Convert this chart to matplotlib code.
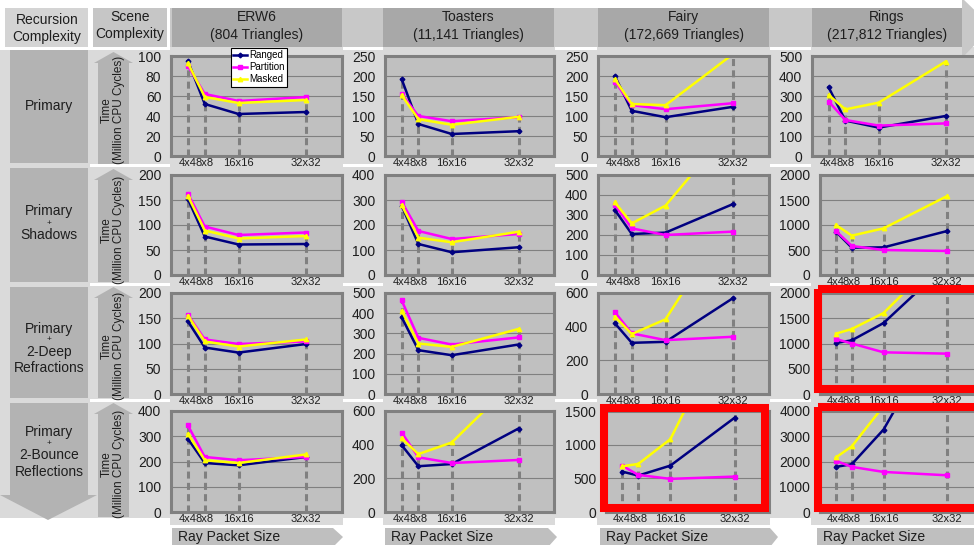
import numpy as np
import matplotlib
matplotlib.use('Agg')
import matplotlib.pyplot as plt
import matplotlib.patches as mpatches

plt.rcParams['font.family'] = ['Liberation Sans', 'DejaVu Sans']

W, H = 974, 545

sizes = [4, 8, 16, 32]
size_labels = ['4x4', '8x8', '16x16', '32x32']
scene_names = ['ERW6', 'Toasters', 'Fairy', 'Rings']
scene_tris = ['(804 Triangles)', '(11,141 Triangles)', '(172,669 Triangles)', '(217,812 Triangles)']
series_names = ['Ranged', 'Partition', 'Masked']
row_names = [['Primary'], ['Primary', '+', 'Shadows'],
             ['Primary', '+', '2-Deep', 'Refractions'],
             ['Primary', '+', '2-Bounce', 'Reflections']]

# million CPU cycles, one list per scene (ERW6, Toasters, Fairy, Rings)
primary_ranged = [[95, 52, 42, 44], [192, 80, 55, 62], [200, 113, 97, 123], [343, 177, 142, 200]]
primary_partition = [[90, 62, 55, 59], [155, 100, 87, 97], [186, 127, 117, 132], [272, 180, 152, 163]]
primary_masked = [[93, 59, 53, 56], [152, 92, 78, 98], [192, 130, 127, 255], [305, 233, 267, 472]]

shadows_ranged = [[152, 77, 61, 62], [277, 124, 91, 111], [325, 205, 212, 355], [867, 547, 553, 880]]
shadows_partition = [[163, 97, 80, 85], [293, 176, 144, 164], [350, 233, 200, 217], [880, 580, 500, 480]]
shadows_masked = [[158, 89, 73, 78], [280, 149, 131, 173], [363, 258, 347, 750], [1000, 787, 933, 1580]]

refract_ranged = [[144, 92, 82, 99], [380, 217, 192, 245], [420, 304, 310, 570], [1010, 1063, 1406, 2580]]
refract_partition = [[157, 108, 99, 104], [463, 278, 245, 280], [486, 360, 320, 340], [1089, 1000, 825, 799]]
refract_masked = [[155, 104, 94, 108], [412, 250, 233, 322], [460, 356, 444, 1070], [1195, 1287, 1604, 2850]]

reflect_ranged = [[290, 194, 185, 218], [397, 272, 285, 496], [600, 541, 689, 1402], [1787, 1893, 3267, 7700]]
reflect_partition = [[343, 218, 205, 218], [472, 325, 291, 309], [689, 551, 492, 526], [2027, 1787, 1587, 1453]]
reflect_masked = [[310, 205, 194, 228], [437, 344, 413, 800], [679, 713, 1082, 3000], [2160, 2600, 4200, 8000]]

y_max = [[100, 250, 250, 500], [200, 400, 500, 2000], [200, 500, 600, 2000], [400, 600, 1500, 4000]]
y_step = [[20, 50, 50, 100], [50, 100, 100, 500], [50, 100, 200, 500], [100, 200, 500, 1000]]
highlighted = [(2, 3), (3, 2), (3, 3)]

rows = [(primary_ranged, primary_partition, primary_masked),
        (shadows_ranged, shadows_partition, shadows_masked),
        (refract_ranged, refract_partition, refract_masked),
        (reflect_ranged, reflect_partition, reflect_masked)]

colors = ['#000080', '#ff00ff', '#ffff00']
markers = ['D', 's', '^']
msizes = [2.4, 2.6, 3.2]
txt = '#1e1e1e'

fig = plt.figure(figsize=(W / 100, H / 100), dpi=100)
fig.patch.set_facecolor('white')


def px_axes(left, top, right, bottom):
    return fig.add_axes([left / W, 1 - bottom / H, (right - left) / W, (bottom - top) / H])


def rect(ax, x0, y0, x1, y1, c):
    ax.add_patch(mpatches.Rectangle((x0, y0), x1 - x0, y1 - y0, fc=c, ec='none'))


# background decorations, in pixel coordinates
bg = fig.add_axes([0, 0, 1, 1])
bg.set_xlim(0, W)
bg.set_ylim(H, 0)
bg.axis('off')

rect(bg, 0, 50, W, 518, '#dadada')
col_panels = [(170, 343), (383, 555), (597, 770), (811, W)]
for x0, x1 in col_panels:
    rect(bg, x0, 47, x1, 525, '#dadada')
gaps = [(90, 170), (343, 383), (555, 597), (770, 811)]
for x0, x1 in gaps:
    for y in [163.5, 282.5, 398.5]:
        rect(bg, x0, y, x1, y + 3, 'white')

# header
bg.add_patch(mpatches.Polygon([(170, 8), (962, 8), (962, -2), (992, 27), (962, 58), (962, 47), (170, 47)],
                              fc='#c8c8c8', ec='none'))
head_boxes = [(172, 342), (383, 554), (598, 769), (812, 962)]
for (x0, x1), nm, tri in zip(head_boxes, scene_names, scene_tris):
    rect(bg, x0, 8, x1, 47, '#a8a8a8')
    bg.text((x0 + x1) / 2, 17, nm, ha='center', va='center', fontsize=10, color=txt)
    bg.text((x0 + x1) / 2, 35, tri, ha='center', va='center', fontsize=10, color=txt)
rect(bg, 5, 8, 88, 47, '#d4d4d4')
rect(bg, 93, 8, 167, 47, '#c6c6c6')
bg.text(47, 20, 'Recursion', ha='center', va='center', fontsize=10, color=txt)
bg.text(47, 37, 'Complexity', ha='center', va='center', fontsize=10, color=txt)
bg.text(130, 17, 'Scene', ha='center', va='center', fontsize=10, color=txt)
bg.text(130, 34, 'Complexity', ha='center', va='center', fontsize=10, color=txt)

# recursion complexity column
row_boxes = [(50, 163), (168, 282), (287, 398), (403, 497)]
for y0, y1 in row_boxes:
    rect(bg, 10, y0, 88, y1, '#b3b3b3')
bg.add_patch(mpatches.Polygon([(0, 495), (97, 495), (48, 520)], fc='#b3b3b3', ec='none'))
label_y = [[106], [211, 223, 235], [329, 340, 352, 368], [432, 444, 455, 472]]
for names, ys in zip(row_names, label_y):
    for nm, y in zip(names, ys):
        bg.text(49, y, nm, ha='center', va='center', fontsize=6 if nm == '+' else 10, color=txt)

# time arrows
time_arrows = [(52, 63, 164), (169, 180, 282), (287, 298, 398), (403, 414, 517)]
time_center = [110, 230, 346, 464]
for (tip, base, bot), yc in zip(time_arrows, time_center):
    bg.add_patch(mpatches.Polygon([(98, bot), (98, base), (94, base), (113.5, tip), (133, base),
                                   (129, base), (129, bot)], fc='#b3b3b3', ec='none'))
    bg.text(113, yc, 'Time\n(Million CPU Cycles)', rotation=90, ha='center', va='center',
            fontsize=8.5, linespacing=0.95, multialignment='center', color=txt)

# ray packet size arrows
ray_boxes = [(172, 333, 343), (385, 548, 557), (600, 770, 778), (817, 990, 1000)]
for x0, x1, xt in ray_boxes:
    bg.add_patch(mpatches.Polygon([(x0, 528), (x1, 528), (xt, 537), (x1, 547), (x0, 547)],
                                  fc='#bfbfbf', ec='none'))
    bg.text(x0 + 6, 537.5, 'Ray Packet Size', ha='left', va='center', fontsize=10, color=txt)

# charts
col_left = [171, 385, 598, 812]
col_right = [342, 554, 769, 981]
row_top = [56, 175, 293, 411]
row_bottom = [156, 275, 394, 512]
wide_labels = {(3, 2): 606, (1, 3): 820, (2, 3): 820, (3, 3): 820}

for r, series in enumerate(rows):
    for c in range(4):
        left = wide_labels.get((r, c), col_left[c])
        ax = px_axes(left, row_top[r], col_right[c], row_bottom[r])
        ax.set_facecolor('#c0c0c0')
        ymax = y_max[r][c]
        ax.set_xlim(0, 40.5)
        ax.set_ylim(0, ymax)
        ax.set_yticks(np.arange(0, ymax + 1, y_step[r][c]))
        ax.set_xticks(sizes)
        ax.set_xticklabels(size_labels)
        ax.tick_params(length=0, colors=txt)
        ax.tick_params(axis='y', labelsize=10, pad=7)
        ax.tick_params(axis='x', labelsize=8, pad=1.5)
        ax.grid(axis='y', color='#808080', lw=0.8)
        ax.set_axisbelow(True)
        for s in ax.spines.values():
            s.set_color('#808080')
            s.set_linewidth(2.2)
            s.set_zorder(5)
        tops = [min(max(v[c][i] for v in series), ymax) for i in range(4)]
        ax.vlines(sizes, 0, tops, colors='#808080', linestyles=(0, (2.3, 1.4)), lw=2.2, zorder=2)
        for vals, nm, col, mk, ms in zip(series, series_names, colors, markers, msizes):
            ax.plot(sizes, vals[c], color=col, lw=1.8, marker=mk, ms=ms, mec=col, label=nm, zorder=3)
        if r == 0 and c == 0:
            leg = ax.legend(loc='upper left', bbox_to_anchor=(231 / W, 1 - 48 / H),
                            bbox_transform=fig.transFigure, fontsize=7, frameon=True, fancybox=False,
                            edgecolor='black', framealpha=1, borderpad=0.25, labelspacing=0.2,
                            handlelength=1.4, handletextpad=0.2, borderaxespad=0)
            leg.get_frame().set_linewidth(0.8)
            leg.set_zorder(10)

# red highlight boxes
top = fig.add_axes([0, 0, 1, 1])
top.set_xlim(0, W)
top.set_ylim(H, 0)
top.axis('off')
top.patch.set_alpha(0)
red_boxes = [(818, 289, 990, 389), (604, 408, 765, 508), (818, 407, 990, 508)]
for x0, y0, x1, y1 in red_boxes:
    top.add_patch(mpatches.Rectangle((x0, y0), x1 - x0, y1 - y0, fill=False, ec='#ff0000', lw=5.8))

fig.savefig('out.png', dpi=100)
